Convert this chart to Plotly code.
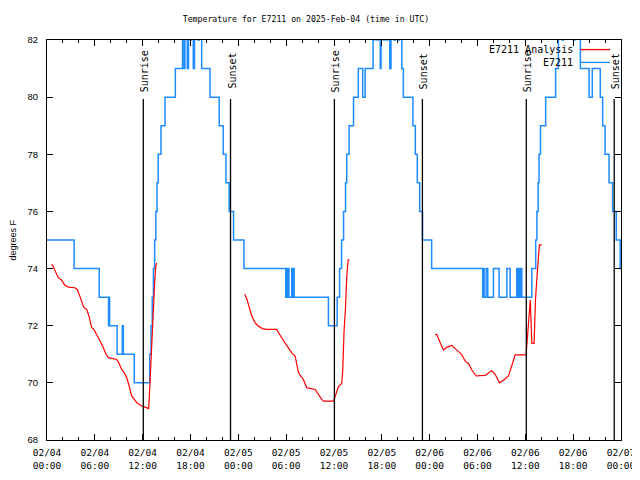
import pandas as pd
import plotly.graph_objects as go

# ---------------- data (hours after 2025-02-04 00:00 UTC) ----------------
START = "2025-02-04 00:00"

# observed station temperature (E7211), step changes
obs_hours = [0.0, 3.4, 6.55, 7.72, 7.78, 7.85, 8.8, 9.45, 9.57, 10.95,
             12.88, 13.05, 13.2, 13.35, 13.5, 13.65, 13.8, 13.95, 14.3, 14.8,
             16.1, 17.0, 17.2, 17.3, 17.6, 17.75, 18.0, 18.1, 18.35, 18.5,
             18.9, 19.1, 19.4, 20.45, 21.6, 22.1, 22.45, 22.85, 23.4, 24.7,
             29.95, 30.05, 30.15, 30.25, 30.35, 30.7, 30.8, 30.9, 31.0, 35.3,
             36.4, 36.7, 36.95, 37.2, 37.45, 37.6, 37.9, 38.45, 39.05, 39.6,
             39.9, 40.9, 41.1, 41.4, 41.55, 41.8, 41.9, 42.2, 42.35, 42.6,
             42.75, 43.0, 43.15, 43.5, 43.7, 44.0, 44.2, 44.5, 44.7, 45.9,
             46.2, 46.45, 46.75, 47.1, 48.25, 54.66, 54.75, 54.83, 55.08, 55.29,
             56.0, 56.71, 57.68, 58.09, 58.93, 59.05, 59.18, 59.3, 59.43, 59.56,
             60.81, 61.3, 61.45, 61.6, 61.72, 61.9, 62.55, 63.8, 64.15, 64.6,
             64.8, 66.0, 66.2, 66.9, 68.0, 68.4, 69.4, 69.7, 70.0, 70.5,
             70.95, 71.4, 71.9, 72.0]
obs_temp = [75, 74, 73, 72, 73, 72, 71, 72, 71, 70,
            71, 72, 73, 74, 75, 76, 77, 78, 79, 80,
            81, 83, 81, 83, 81, 83, 82, 83, 81, 83,
            82, 83, 81, 80, 79, 78, 77, 76, 75, 74,
            73, 74, 73, 74, 73, 74, 73, 74, 73, 72,
            73, 74, 75, 76, 77, 78, 79, 80, 81, 80,
            81, 82, 83, 82, 83, 81, 83, 82, 83, 82,
            83, 81, 83, 82, 83, 82, 83, 81, 80, 79,
            78, 77, 76, 75, 74, 73, 74, 73, 74, 73,
            74, 73, 74, 73, 74, 73, 74, 73, 74, 73,
            74, 75, 76, 77, 78, 79, 80, 81, 83, 82,
            83, 82, 83, 81, 80, 81, 80, 79, 78, 77,
            76, 75, 74, 74]

# analysis temperature (E7211 Analysis), three segments
ana_day1_hours = [0.58, 0.75, 0.94, 1.15, 1.42, 1.8, 2.26, 2.7, 3.1, 3.5,
                  3.8, 4.05, 4.35, 4.6, 4.98, 5.3, 5.6, 5.8, 6.23, 6.6,
                  7.07, 7.4, 7.7, 8.2, 8.74, 9.0, 9.37, 9.7, 10.0, 10.3,
                  10.62, 10.9, 11.25, 11.55, 11.88, 12.3, 12.75, 12.92, 13.1, 13.3,
                  13.5, 13.65, 13.76]
ana_day1_temp = [74.15, 74.1, 73.97, 73.85, 73.68, 73.6, 73.41, 73.35, 73.33, 73.33,
                 73.27, 73.1, 72.86, 72.65, 72.57, 72.3, 71.93, 71.9, 71.7, 71.5,
                 71.23, 71.0, 70.88, 70.85, 70.82, 70.7, 70.47, 70.35, 70.18, 69.9,
                 69.54, 69.45, 69.31, 69.25, 69.19, 69.15, 69.1, 70.0, 71.2, 72.5,
                 73.5, 74.1, 74.2]
ana_day2_hours = [24.8, 25.05, 25.26, 25.5, 25.68, 26.1, 26.51, 27.0, 27.56, 28.8,
                  29.1, 29.44, 29.85, 30.28, 30.7, 31.12, 31.35, 31.54, 31.8, 32.16,
                  32.4, 32.58, 33.63, 34.0, 34.47, 34.67, 35.93, 36.14, 36.55, 36.97,
                  37.1, 37.26, 37.43, 37.6, 37.77, 37.93]
ana_day2_temp = [73.1, 72.95, 72.75, 72.45, 72.34, 72.1, 71.99, 71.9, 71.87, 71.87,
                 71.75, 71.58, 71.4, 71.23, 71.05, 70.94, 70.6, 70.36, 70.25, 70.12,
                 69.95, 69.83, 69.77, 69.6, 69.42, 69.36, 69.36, 69.52, 69.87, 69.98,
                 70.45, 71.8, 72.55, 73.72, 74.3, 74.32]
ana_day3_hours = [48.68, 48.9, 49.31, 49.73, 50.2, 50.77, 51.2, 51.61, 52.0, 52.45,
                  52.87, 53.29, 53.83, 54.3, 54.96, 55.4, 55.8, 56.2, 56.75, 57.3,
                  57.88, 58.3, 58.72, 60.1, 60.2, 60.5, 60.62, 60.75, 60.82, 61.1,
                  61.27, 61.52, 61.77, 62.07]
ana_day3_temp = [71.7, 71.68, 71.41, 71.15, 71.25, 71.31, 71.2, 71.11, 71.0, 70.76,
                 70.68, 70.45, 70.24, 70.25, 70.26, 70.35, 70.42, 70.31, 70.0, 70.1,
                 70.24, 70.6, 70.98, 70.98, 71.4, 72.7, 72.9, 71.9, 71.38, 71.38,
                 72.9, 73.95, 74.83, 74.83]

# sun events
sun_hours = [12.08, 23.02, 36.05, 47.09, 60.12, 71.15]
sun_labels = ["Sunrise", "Sunset", "Sunrise", "Sunset", "Sunrise", "Sunset"]

# axes
y_ticks = [68, 70, 72, 74, 76, 78, 80, 82]
x_range_hours = [0, 72]

title_text = "Temperature for E7211 on 2025-Feb-04 (time in UTC)"
series_names = ["E7211 Analysis", "E7211"]
series_colors = ["#ff0000", "#1e8cff"]

# ---------------- build ----------------
t0 = pd.Timestamp(START)


def to_time(hours):
    return [None if h is None else t0 + pd.Timedelta(hours=h) for h in hours]


ana_hours = ana_day1_hours + [None] + ana_day2_hours + [None] + ana_day3_hours
ana_temp = ana_day1_temp + [None] + ana_day2_temp + [None] + ana_day3_temp

MONO = "DejaVu Sans Mono"
SANS = "Liberation Sans"

fig = go.Figure()
fig.add_trace(go.Scatter(
    x=to_time(obs_hours), y=obs_temp, mode="lines", name=series_names[1],
    line=dict(color=series_colors[1], width=1.5, shape="hv"), showlegend=False))
fig.add_trace(go.Scatter(
    x=to_time(ana_hours), y=ana_temp, mode="lines", name=series_names[0],
    line=dict(color=series_colors[0], width=1.2), connectgaps=False,
    showlegend=False))

# sunrise / sunset markers
for h, lab in zip(sun_hours, sun_labels):
    ts = t0 + pd.Timedelta(hours=h)
    fig.add_shape(type="line", xref="x", yref="paper", x0=ts, x1=ts,
                  y0=0, y1=0.8525, line=dict(color="black", width=1.3))
    fig.add_annotation(x=ts, y=0.9225, xref="x", yref="paper", text=lab,
                       textangle=-90, showarrow=False, xanchor="center",
                       yanchor="middle", xshift=1,
                       font=dict(family=MONO, size=10, color="black"))

# legend (gnuplot style: text right, sample on the right)
leg_y = [0.976, 0.944]
for name, col, yy in zip(series_names, series_colors, leg_y):
    fig.add_annotation(x=0.92, y=yy, xref="paper", yref="paper", text=name,
                       showarrow=False, xanchor="right", yanchor="middle",
                       font=dict(family=MONO, size=10, color="black"))
    fig.add_shape(type="line", xref="paper", yref="paper", x0=0.929, x1=0.981,
                  y0=yy, y1=yy, line=dict(color=col, width=1.3))

# y axis title
fig.add_annotation(x=-0.06, y=0.5, xref="paper", yref="paper", text="degrees F",
                   textangle=-90, showarrow=False, xanchor="center", yanchor="middle",
                   font=dict(family=SANS, size=9, color="black"))

# the page body has an 8px margin, so the figure is 632x472 placed at (8, 8)
fig.update_layout(
    width=632, height=472,
    paper_bgcolor="white", plot_bgcolor="white",
    margin=dict(l=39, r=19, t=32, b=40, autoexpand=False),
    title=dict(text=title_text, x=0.4715, xanchor="center", y=0.977, yanchor="middle",
               font=dict(family=MONO, size=8.2, color="black")),
    showlegend=False,
)
fig.update_xaxes(
    type="date",
    automargin=False,
    range=to_time(x_range_hours),
    tick0=t0, dtick=6 * 3600 * 1000,
    tickformat="%m/%d<br>%H:%M",
    ticks="inside", ticklen=6, tickcolor="black", tickwidth=1,
    minor=dict(dtick=2 * 3600 * 1000, ticks="inside", ticklen=3, tickcolor="black"),
    showline=True, linecolor="black", linewidth=1, mirror="ticks",
    showgrid=False, zeroline=False,
    tickfont=dict(family=MONO, size=9.5, color="black"),
    ticklabelstandoff=4,
)
fig.update_yaxes(
    automargin=False,
    range=[y_ticks[0], y_ticks[-1]],
    tickvals=y_ticks,
    ticks="inside", ticklen=6, tickcolor="black", tickwidth=1,
    showline=True, linecolor="black", linewidth=1, mirror="ticks",
    showgrid=False, zeroline=False,
    tickfont=dict(family=SANS, size=9.5, color="black"),
    ticklabelstandoff=6,
)

fig.write_html("out.html")
